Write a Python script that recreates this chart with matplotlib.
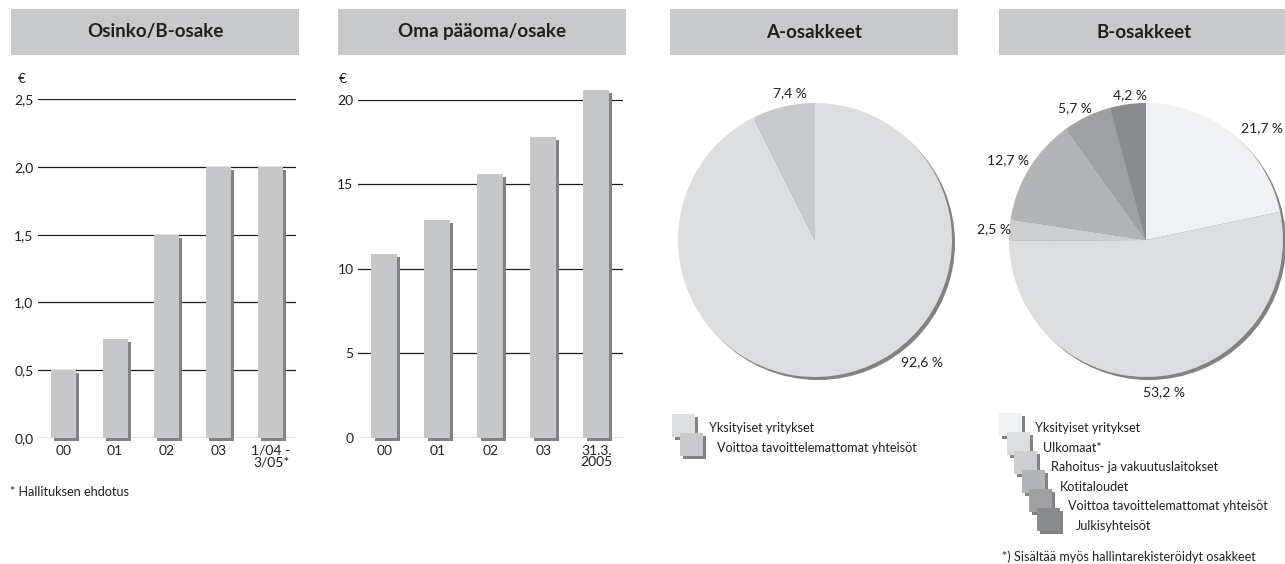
import numpy as np
import matplotlib as mpl
import matplotlib.pyplot as plt
import matplotlib.patheffects as pe
from matplotlib.patches import Rectangle, Circle
from matplotlib.transforms import offset_copy

mpl.rcParams.update({
    "font.family": ["Lato", "DejaVu Sans"],
    "font.size": 9,
    "text.color": "#231f20",
    "xtick.color": "#231f20",
    "ytick.color": "#231f20",
})

W, H = 1285, 564

# --- data ---
div_years = ["00", "01", "02", "03", "1/04 -\n3/05*"]
div_values = [0.50, 0.73, 1.50, 2.00, 2.00]

equity_years = ["00", "01", "02", "03", "31.3.\n2005"]
equity_values = [10.9, 12.9, 15.6, 17.8, 20.6]

a_labels = ["Yksityiset yritykset", "Voittoa tavoittelemattomat yhteisöt"]
a_shares = [92.6, 7.4]
a_colors = ["#dcdddf", "#c8c9cb"]

b_labels = ["Yksityiset yritykset", "Ulkomaat*", "Rahoitus- ja vakuutuslaitokset",
            "Kotitaloudet", "Voittoa tavoittelemattomat yhteisöt", "Julkisyhteisöt"]
b_shares = [21.7, 53.2, 2.5, 12.7, 5.7, 4.2]
b_colors = ["#f0f1f2", "#dcdddf", "#cdcecf", "#b3b4b6", "#9fa0a2", "#898a8c"]

# label spots in pie-radius units
a_label_pos = [(0.78, -0.89), (-0.18, 1.07)]
b_label_pos = [(0.85, 0.82), (0.13, -1.11), (-1.11, 0.08), (-1.01, 0.58), (-0.52, 0.96), (-0.12, 1.06)]

BAR = "#c6c7c9"
SHADOW = "#818284"
HEADER = "#c8c9cb"
TICK_FS = 10
TEXT_FS = 9.1


def fx(x):
    return x / W


def fy(y):
    return 1 - y / H


def box(x0, y0, x1, y1):
    # pixel box (top-left origin) -> figure fraction rect
    return [fx(x0), fy(y1), fx(x1 - x0), (y1 - y0) / H]


fig = plt.figure(figsize=(W / 100, H / 100), dpi=100)


def header(x0, x1, title):
    fig.add_artist(Rectangle((fx(x0), fy(55)), fx(x1 - x0), 46 / H,
                             transform=fig.transFigure, color=HEADER, lw=0))
    fig.text(fx((x0 + x1) / 2), fy(32), title, ha="center", va="center",
             fontsize=13.5, fontweight="bold")


def bar_panel(rect, cats, vals, ticks, ticklabels, top):
    ax = fig.add_axes(rect)
    x = np.arange(len(cats))
    shadow = [pe.SimplePatchShadow(offset=(2.2, -2.2), shadow_rgbFace=SHADOW, alpha=1), pe.Normal()]
    bars = ax.bar(x, vals, width=0.48, color=BAR, zorder=3, clip_on=False)
    for b in bars:
        b.set_path_effects(shadow)
    ax.set_xlim(-0.5, len(cats) - 0.5)
    ax.set_ylim(0, top)
    ax.set_yticks(ticks)
    ax.set_yticklabels(ticklabels)
    ax.set_xticks(x)
    ax.set_xticklabels(cats, linespacing=0.95)
    ax.tick_params(axis="y", length=0, pad=3, labelsize=TICK_FS)
    ax.tick_params(axis="x", length=0, pad=5, labelsize=TICK_FS)
    for t in ax.get_xticklabels():
        t.set_multialignment("right")
    ax.yaxis.grid(True, color="#1a1a1a", lw=0.9)
    ax.set_axisbelow(True)
    for s in ax.spines.values():
        s.set_visible(False)
    return ax


def pie_panel(cx, cy, r, shares, colors, label_pos):
    ax = fig.add_axes(box(cx - r, cy - r, cx + r, cy + r))
    sh = Circle((0, 0), 1, color=SHADOW, lw=0, clip_on=False,
                transform=offset_copy(ax.transData, fig=fig, x=3, y=-3, units="dots"))
    ax.add_patch(sh)
    ax.pie(shares, colors=colors, startangle=90, counterclock=False, radius=1,
           wedgeprops=dict(linewidth=0))
    ax.set_xlim(-1, 1)
    ax.set_ylim(-1, 1)
    ax.set_aspect("equal")
    ax.axis("off")
    for v, (lx, ly) in zip(shares, label_pos):
        ax.text(lx, ly, f"{v:.1f} %".replace(".", ","), ha="center", va="center", fontsize=TICK_FS)
    return ax


def legend(x0, y0, tx0, ty0, labels, colors):
    for i, (lab, c) in enumerate(zip(labels, colors)):
        sx, sy = x0 + 7.6 * i, y0 + 19.0 * i
        fig.add_artist(Rectangle((fx(sx + 3), fy(sy + 26)), 23 / W, 23 / H,
                                 transform=fig.transFigure, color=SHADOW, lw=0))
        fig.add_artist(Rectangle((fx(sx), fy(sy + 23)), 23 / W, 23 / H,
                                 transform=fig.transFigure, color=c, lw=0))
    for i, lab in enumerate(labels):
        fig.text(fx(tx0 + 8.2 * i), fy(ty0 + 19.6 * i), lab, ha="left", va="center", fontsize=TEXT_FS)


# panel 1: dividend
header(11, 299, "Osinko/B-osake")
div_ticks = [0, 0.5, 1.0, 1.5, 2.0, 2.5]
bar_panel(box(37.6, 99.5, 296, 437.7), div_years, div_values, div_ticks,
          [f"{t:.1f}".replace(".", ",") for t in div_ticks], 2.5)
fig.text(fx(22), fy(79), "€", ha="center", va="center", fontsize=TICK_FS)
fig.text(fx(10), fy(492), "* Hallituksen ehdotus", ha="left", va="center", fontsize=TEXT_FS)

# panel 2: equity per share
header(338, 626, "Oma pääoma/osake")
eq_ticks = [0, 5, 10, 15, 20]
bar_panel(box(357.7, 100, 622.7, 437.7), equity_years, equity_values, eq_ticks,
          [str(t) for t in eq_ticks], 20)
fig.text(fx(343), fy(79), "€", ha="center", va="center", fontsize=TICK_FS)

# panel 3: A shares
header(670, 958, "A-osakkeet")
pie_panel(815, 240, 137, a_shares, a_colors, a_label_pos)
legend(672, 414, 709, 428, a_labels, a_colors)

# panel 4: B shares
header(999, 1290, "B-osakkeet")
pie_panel(1146, 240, 137, b_shares, b_colors, b_label_pos)
legend(999, 413, 1035, 428, b_labels, b_colors)
fig.text(fx(1002), fy(557), "*) Sisältää myös hallintarekisteröidyt osakkeet",
         ha="left", va="center", fontsize=TEXT_FS)

fig.savefig("out.png", dpi=100)
